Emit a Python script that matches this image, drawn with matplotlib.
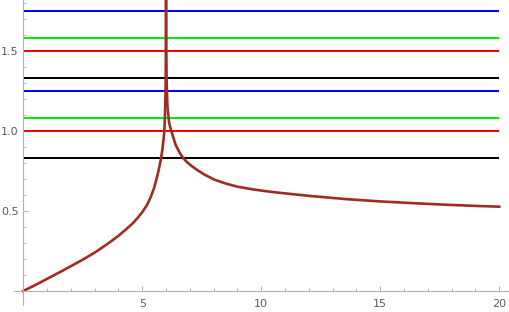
#!/usr/bin/python
# -*- coding: utf-8 -*-

"""
Curve with a pole at x = 6, drawn over a set of constant levels.
"""

import matplotlib
matplotlib.use('Agg')
import matplotlib.pyplot as plt
import matplotlib.ticker as plticker

# Constant levels (value, colour)
LEVEL_VALUES = [0.833, 1.0, 1.083, 1.25, 1.333, 1.5, 1.583, 1.75]
LEVEL_COLORS = ['black', 'red', '#00ee00', 'blue', 'black', 'red', '#00ee00', 'blue']
LEVEL_X = [0, 20]

# Curve, left of the pole
LEFT_X = [0, 0.5, 1, 1.5, 2, 2.5, 3, 3.5, 4, 4.3, 4.6, 4.8, 5.0, 5.2, 5.35,
          5.5, 5.65, 5.78, 5.86, 5.93, 5.965, 5.985, 5.993, 5.998]
LEFT_Y = [0, 0.037, 0.076, 0.115, 0.155, 0.196, 0.24, 0.29, 0.345, 0.383,
          0.423, 0.456, 0.493, 0.538, 0.585, 0.645, 0.73, 0.82, 0.9, 1.0,
          1.15, 1.3, 1.5, 1.95]

# Curve, right of the pole
RIGHT_X = [6.002, 6.008, 6.025, 6.06, 6.13, 6.22, 6.4, 6.55, 6.7, 6.85, 7.0,
           7.3, 7.6, 8.0, 8.5, 9.0, 9.7, 10.4, 11.2, 12.2, 13.6, 15.0, 16.4,
           17.8, 19.2, 20]
RIGHT_Y = [1.95, 1.5, 1.3, 1.15, 1.05, 1.0, 0.915, 0.87, 0.835, 0.81, 0.79,
           0.757, 0.729, 0.698, 0.672, 0.652, 0.634, 0.62, 0.607, 0.592,
           0.574, 0.56, 0.549, 0.539, 0.531, 0.527]

CURVE_COLOR = '#9f2c22'
AXIS_COLOR = '#b0b0b0'
LABEL_COLOR = '#5a5a5a'


def main():
    """Draw and save the chart"""
    fig = plt.figure(figsize=(5.10, 3.12), dpi=100)
    axes = fig.add_axes([14 / 510, 7 / 312, 494 / 510, 305 / 312])

    for value, color in zip(LEVEL_VALUES, LEVEL_COLORS):
        axes.plot(LEVEL_X, [value, value], color=color, linewidth=1.45,
                  solid_capstyle='butt')

    axes.plot(LEFT_X, LEFT_Y, color=CURVE_COLOR, linewidth=1.9,
              solid_joinstyle='round')
    axes.plot(RIGHT_X, RIGHT_Y, color=CURVE_COLOR, linewidth=1.9,
              solid_joinstyle='round')

    axes.set_xlim(-0.39, 20.37)
    axes.set_ylim(-0.0875, 1.819)

    # Mathematica style axes through the origin
    axes.spines['left'].set_position(('data', 0))
    axes.spines['bottom'].set_position(('data', 0))
    axes.spines['top'].set_visible(False)
    axes.spines['right'].set_visible(False)
    for side in ('left', 'bottom'):
        axes.spines[side].set_color(AXIS_COLOR)
        axes.spines[side].set_linewidth(0.8)

    axes.xaxis.set_major_locator(plticker.FixedLocator([5, 10, 15, 20]))
    axes.xaxis.set_minor_locator(plticker.MultipleLocator(1))
    axes.yaxis.set_major_locator(plticker.FixedLocator([0.5, 1.0, 1.5]))
    axes.yaxis.set_minor_locator(plticker.MultipleLocator(0.1))
    axes.yaxis.set_major_formatter(plticker.FormatStrFormatter('%.1f'))

    axes.tick_params(which='both', direction='in', color=AXIS_COLOR,
                     labelcolor=LABEL_COLOR, labelsize=8, width=0.7)
    axes.tick_params(which='major', length=3.4)
    axes.tick_params(which='minor', length=2)
    axes.tick_params(axis='x', which='both', pad=6)
    axes.tick_params(axis='y', which='both', pad=3.5)
    axes.patch.set_alpha(0)

    fig.savefig('out.png', dpi=100)


if __name__ == '__main__':
    main()
